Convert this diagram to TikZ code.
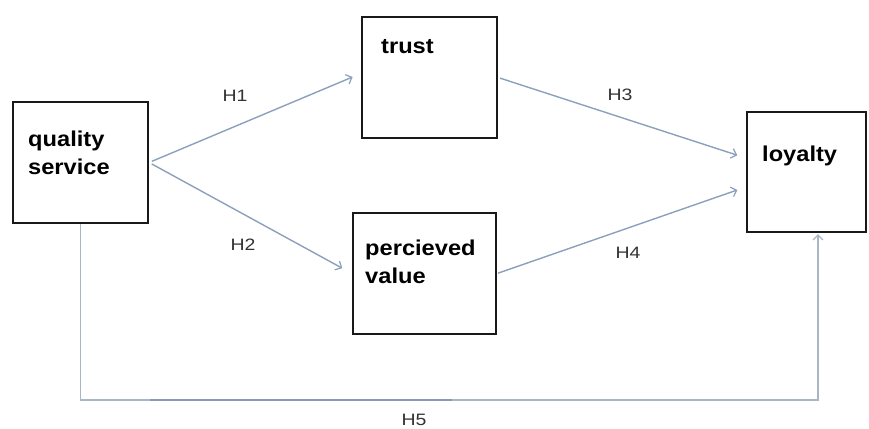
\documentclass[tikz,border=0pt]{standalone}
\usepackage{fontspec}
\setmainfont{Liberation Sans}
\usetikzlibrary{arrows.meta}
\definecolor{arrowc}{RGB}{140,160,188}
\definecolor{h5c}{RGB}{170,182,198}
\definecolor{h5dark}{RGB}{135,152,185}
\definecolor{boxc}{RGB}{25,25,25}
\newcommand{\boxtxt}[1]{\scalebox{1.1}[1]{\fontsize{21.5}{28}\selectfont\bfseries #1}}
\newcommand{\hlab}[1]{\scalebox{1.18}[1]{\fontsize{16.5}{19}\selectfont #1}}
\begin{document}
\begin{tikzpicture}[x=1pt,y=-1pt,
  varbox/.style={draw=boxc,line width=2.2pt,fill=white,rectangle,inner sep=0pt},
  boxlabel/.style={anchor=base west,inner sep=0pt,align=left,text=black},
  hyp/.style={inner sep=0pt,text={rgb,255:red,50;green,50;blue,50}},
  conn/.style={draw=arrowc,line width=1.4pt,-{Straight Barb[length=5pt,width=10pt,line width=1.2pt]}}
]
\useasboundingbox (0,0) rectangle (869,428);
% boxes
\node[varbox,minimum width=135pt,minimum height=121pt] (q) at (80.5,162.5) {};
\node[varbox,minimum width=135pt,minimum height=121pt] (t) at (429.5,77.5) {};
\node[varbox,minimum width=143pt,minimum height=121pt] (p) at (424.5,273.5) {};
\node[varbox,minimum width=119pt,minimum height=120pt] (l) at (806.5,172) {};
% box texts
\node[boxlabel] (qt) at (28,146) {\boxtxt{quality}};
\node[boxlabel] (qt2) at (28,174) {\boxtxt{service}};
\node[boxlabel] (tt) at (381,54) {\boxtxt{trust}};
\node[boxlabel] (pt) at (365,255) {\boxtxt{percieved}};
\node[boxlabel] (pt2) at (365,283) {\boxtxt{value}};
\node[boxlabel] (lt) at (762,161) {\boxtxt{loyalty}};
% connectors
\draw[conn,shorten <=3pt,shorten >=9pt] (q.east) -- ([yshift=4pt]t.west);
\draw[conn,shorten <=3pt,shorten >=11pt] (q.east) -- (p.west);
\draw[conn,shorten <=2pt,shorten >=9pt] (t.east) -- ([yshift=14pt]l.west);
\draw[conn,shorten <=1pt,shorten >=9pt] (p.east) -- ([yshift=-15pt]l.west);
\coordinate (c5a) at (80.5,400);
\coordinate (c5b) at (818,400);
\draw[conn,draw=h5c,shorten >=1pt] (q.south) -- (c5a) -- (c5b) -- ([xshift=11.5pt]l.south);
\draw[draw=h5dark,line width=1.8pt] (150,400) -- (452,400);
% labels
\node[hyp] (h1) at (235,96) {\hlab{H1}};
\node[hyp] (h2) at (243,245) {\hlab{H2}};
\node[hyp] (h3) at (620,95) {\hlab{H3}};
\node[hyp] (h4) at (628,253) {\hlab{H4}};
\node[hyp] (h5) at (414,420) {\hlab{H5}};
\end{tikzpicture}
\end{document}
